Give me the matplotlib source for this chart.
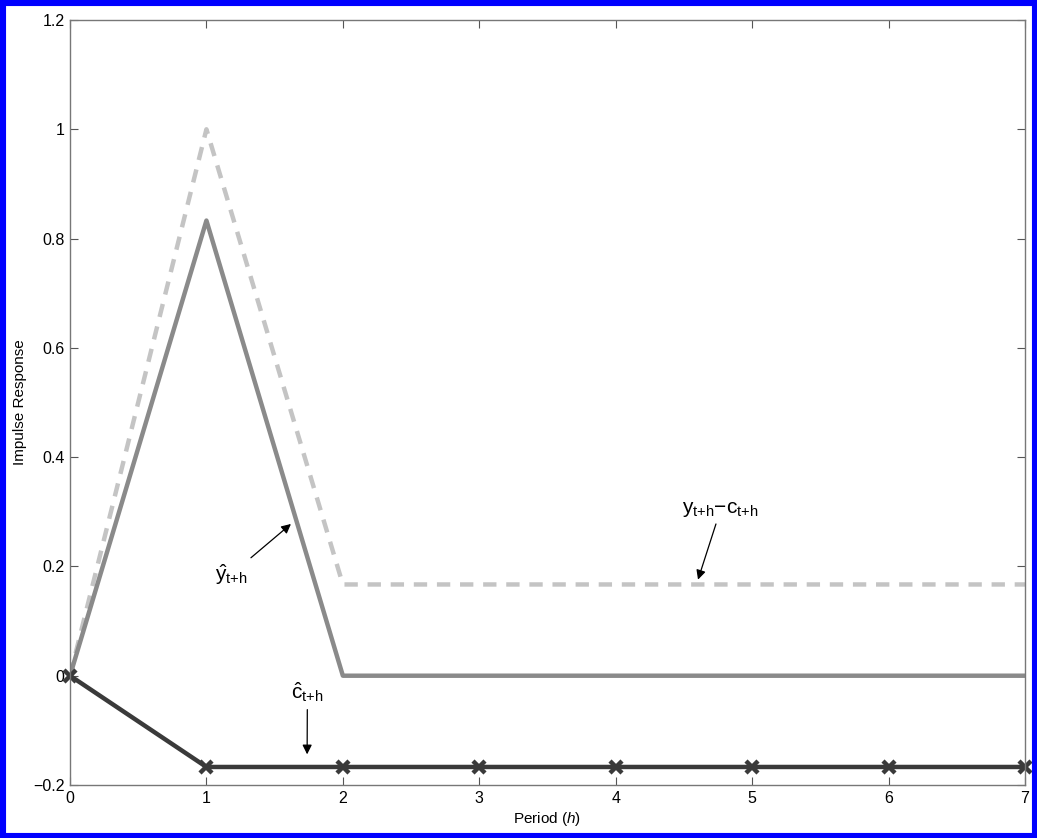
import matplotlib.pyplot as plt
from matplotlib.patches import Rectangle

plt.rcParams['font.family'] = ['Liberation Sans', 'DejaVu Sans']
plt.rcParams['mathtext.fontset'] = 'custom'
plt.rcParams['mathtext.rm'] = 'Liberation Sans'
plt.rcParams['mathtext.it'] = 'Liberation Sans:italic'

periods = [0, 1, 2, 3, 4, 5, 6, 7]
y_hat = [0, 0.833, 0, 0, 0, 0, 0, 0]
y_minus_c = [0, 1.0, 0.167, 0.167, 0.167, 0.167, 0.167, 0.167]
c_hat = [0, -0.167, -0.167, -0.167, -0.167, -0.167, -0.167, -0.167]

fig = plt.figure(figsize=(10.37, 8.38), dpi=100)
ax = fig.add_axes([70 / 1037, 53 / 838, 955 / 1037, 765 / 838])

ax.plot(periods, y_minus_c, color='#c4c4c4', lw=3.2, ls=(0, (3, 2.2)))
ax.plot(periods, y_hat, color='#8a8a8a', lw=3.2)
ax.plot(periods, c_hat, color='#3a3a3a', lw=3.2, marker='x',
        markersize=9, markeredgewidth=3.2, clip_on=False)

ax.set_xlim(0, 7)
ax.set_ylim(-0.2, 1.2)
ax.set_xticks(periods)
ax.set_yticks([-0.2, 0, 0.2, 0.4, 0.6, 0.8, 1, 1.2])
ax.set_yticklabels(['\u22120.2', '0', '0.2', '0.4', '0.6', '0.8', '1', '1.2'])
ax.tick_params(direction='in', top=True, right=True, length=6, width=0.8,
               color='#555555', labelsize=11.5, pad=4)
for s in ax.spines.values():
    s.set_color('#777777')
    s.set_linewidth(1.0)

ax.set_xlabel('Period ($\\mathit{h}$)', fontsize=11, labelpad=3)
ax.set_ylabel('Impulse Response', fontsize=11, labelpad=4)

sub = '_{\\mathrm{t{+}h}}'
arrow = dict(arrowstyle='-|>', color='black', lw=0.9, mutation_scale=14)
ax.annotate('$\\hat{\\mathrm{y}}' + sub + '$', xy=(1.635, 0.281),
            xytext=(1.18, 0.185), fontsize=15, ha='center', va='center',
            arrowprops=arrow)
ax.annotate('$\\mathrm{y}' + sub + '\\mathrm{{-}c}' + sub + '$',
            xy=(4.597, 0.171), xytext=(4.77, 0.305), fontsize=15,
            ha='center', va='center', arrowprops=arrow)
ax.annotate('$\\hat{\\mathrm{c}}' + sub + '$', xy=(1.738, -0.149),
            xytext=(1.74, -0.03), fontsize=15, ha='center', va='center',
            arrowprops=arrow)

fig.patches.append(Rectangle((0, 0), 1, 1, transform=fig.transFigure,
                             fill=False, edgecolor='#0000ff', lw=8))

fig.savefig('out.png', dpi=100)
